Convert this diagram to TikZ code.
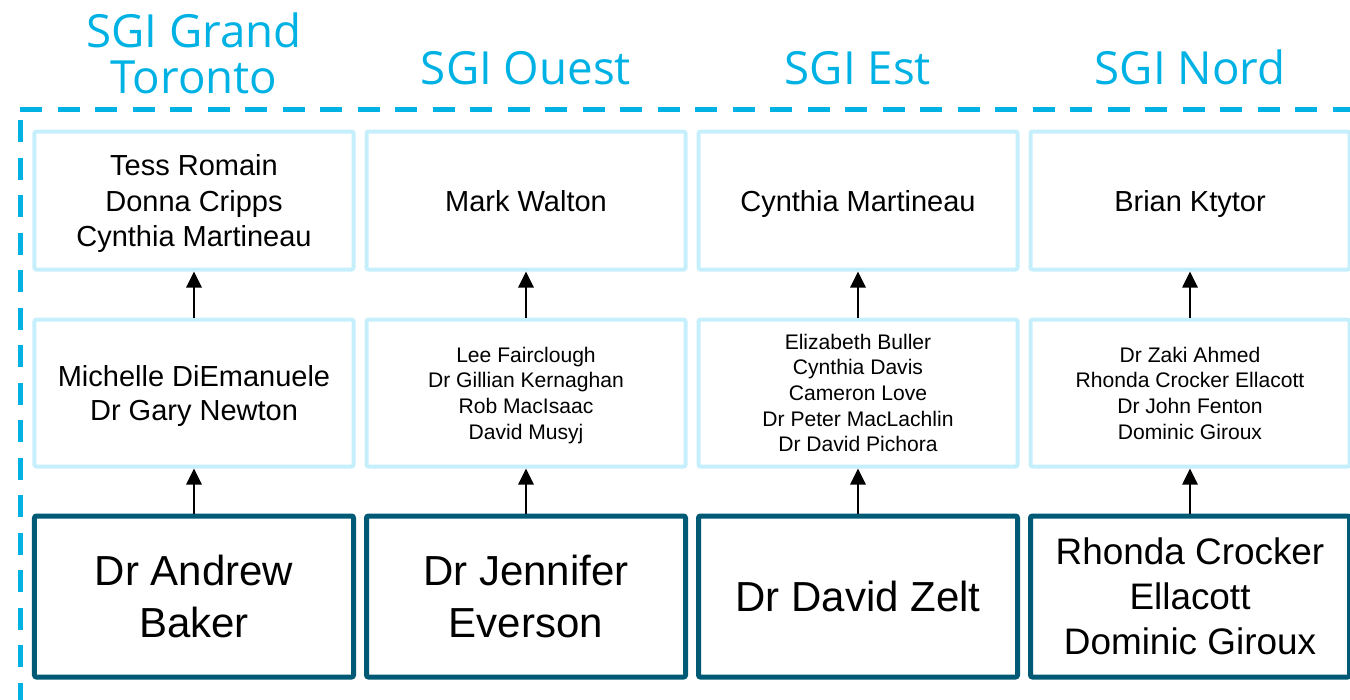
\documentclass[tikz,border=0pt]{standalone}
\usepackage{fontspec}
\setmainfont{Liberation Sans}
\newfontfamily\headfont{Open Sans}
\usetikzlibrary{arrows.meta}

\definecolor{sgiblue}{RGB}{0,178,228}
\definecolor{paleedge}{RGB}{198,239,252}
\definecolor{darkedge}{RGB}{0,90,118}

\tikzset{
  regionhead/.style={text=sgiblue, inner sep=0pt, align=center,
    font=\headfont\fontsize{26}{26}\selectfont},
  namebox/.style={draw=paleedge, line width=0.8mm, rounded corners=0.4mm,
    minimum width=63.8mm, inner sep=0pt, align=center},
  topbox/.style={namebox, minimum height=27.6mm, text depth=-1pt,
    font=\fontsize{16.5}{20.2}\selectfont},
  midbox/.style={namebox, minimum height=29.4mm, text depth=-0.5pt,
    font=\fontsize{12}{14.6}\selectfont},
  leadbox/.style={namebox, draw=darkedge, line width=1mm, minimum height=32.2mm,
    text depth=-2pt, font=\fontsize{23.9}{29.6}\selectfont},
  uparrow/.style={line width=0.55mm, -{Triangle[length=3.2mm, width=3mm]}}
}

\begin{document}
\begin{tikzpicture}[x=0.2mm, y=-0.2mm]
    \useasboundingbox (0,0) rectangle (1350,699);

    % Dashed frame
    \draw[sgiblue, line width=1mm, dash pattern=on 4.4mm off 3.1mm] (20,109.5) -- (1360,109.5);
    \draw[sgiblue, line width=1mm, dash pattern=on 4.4mm off 3.1mm] (20,120) -- (20,710);

    % Region titles
    \node[regionhead, anchor=base] (h1) at (194,93) {SGI Grand\\Toronto};
    \node[regionhead, anchor=base] (h2) at (526,84) {SGI Ouest};
    \node[regionhead, anchor=base] (h3) at (858,84) {SGI Est};
    \node[regionhead, anchor=base] (h4) at (1190,84) {SGI Nord};

    % Top row
    \node[topbox] (a1) at (194,200.5) {Tess Romain\\Donna Cripps\\Cynthia Martineau};
    \node[topbox] (a2) at (526,200.5) {Mark Walton};
    \node[topbox] (a3) at (858,200.5) {Cynthia Martineau};
    \node[topbox] (a4) at (1190,200.5) {Brian Ktytor};

    % Middle row
    \node[midbox, text depth=-2pt, font=\fontsize{16.5}{19.8}\selectfont] (b1) at (194,393) {Michelle DiEmanuele\\Dr Gary Newton};
    \node[midbox] (b2) at (526,393) {Lee Fairclough\\Dr Gillian Kernaghan\\Rob MacIsaac\\David Musyj};
    \node[midbox] (b3) at (858,393) {Elizabeth Buller\\Cynthia Davis\\Cameron Love\\Dr Peter MacLachlin\\Dr David Pichora};
    \node[midbox] (b4) at (1190,393) {Dr Zaki Ahmed\\Rhonda Crocker Ellacott\\Dr John Fenton\\Dominic Giroux};

    % Bottom row
    \node[leadbox] (c1) at (194,596.5) {Dr Andrew\\Baker};
    \node[leadbox] (c2) at (526,596.5) {Dr Jennifer\\Everson};
    \node[leadbox] (c3) at (858,596.5) {Dr David Zelt};
    \node[leadbox, font=\fontsize{21}{25.6}\selectfont] (c4) at (1190,596.5) {Rhonda Crocker\\Ellacott\\Dominic Giroux};

    % Arrows
    \draw[uparrow] (c1) -- (b1);
    \draw[uparrow] (c2) -- (b2);
    \draw[uparrow] (c3) -- (b3);
    \draw[uparrow] (c4) -- (b4);
    \draw[uparrow] (b1) -- (a1);
    \draw[uparrow] (b2) -- (a2);
    \draw[uparrow] (b3) -- (a3);
    \draw[uparrow] (b4) -- (a4);
\end{tikzpicture}
\end{document}
